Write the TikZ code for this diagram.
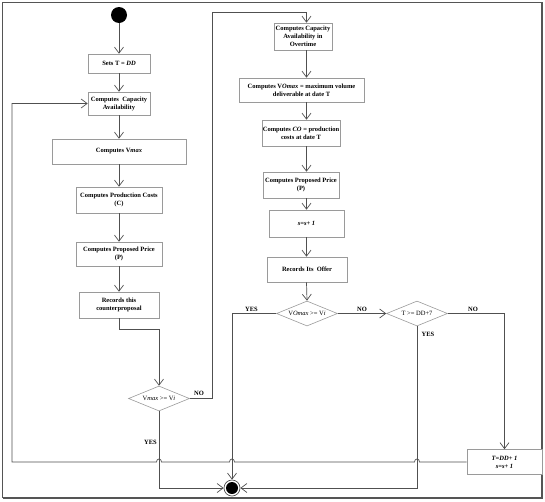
\documentclass[tikz,border=0pt]{standalone}
\usepackage{fontspec}
\setmainfont{Liberation Serif}
\usetikzlibrary{arrows.meta,shapes.geometric}
\definecolor{boxgray}{HTML}{9A9A9A}
\definecolor{linegray}{HTML}{505050}
\definecolor{framegray}{HTML}{555555}
\begin{document}
\begin{tikzpicture}[x=1pt,y=-1pt,
  txt/.style={font=\fontsize{6.5}{8}\selectfont},
  box/.style={txt, draw=boxgray, fill=white, rectangle, align=center, inner sep=1pt, line width=0.6pt, font=\fontsize{6.5}{8}\selectfont\bfseries},
  dia/.style={txt, draw=boxgray, diamond, aspect=2.5, inner sep=0pt, line width=0.6pt, minimum width=61pt, minimum height=25pt},
  lab/.style={font=\fontsize{6.5}{8}\selectfont\bfseries, inner sep=0pt},
  conn/.style={draw=linegray, line width=0.7pt},
  arr/.style={conn, -{Straight Barb[length=6pt,width=9pt]}}
]
\useasboundingbox (0,0) rectangle (545,501);
% frame
\draw[framegray, line width=1.1pt] (2.5,2.5) rectangle (542,497.5);
\draw[framegray, line width=2pt] (542,2.5) -- (542,497.5) -- (2.5,497.5);

% left column
\node[circle, fill=black, minimum size=16pt, inner sep=0pt] (start) at (119,15) {};
\node[box, minimum width=62pt, minimum height=19pt] (b1) at (119,63.5) {Sets T = \textit{DD}};
\node[box, minimum width=62pt, minimum height=23pt] (b2) at (119,103.5) {Computes\ \ Capacity\\Availability};
\node[box, minimum width=134pt, minimum height=25pt] (b3) at (119,151.5) {Computes V\textit{max}};
\node[box, minimum width=86pt, minimum height=26pt] (b4) at (119,200) {Computes Production Costs\\(C)};
\node[box, minimum width=86pt, minimum height=24pt] (b5) at (119,254) {Computes Proposed Price\\(P)};
\node[box, minimum width=80pt, minimum height=26pt] (b6) at (119,305) {Records this\\counterproposal};
\node[dia] (d1) at (159,398.5) {V\textit{max} >= V\textit{i}};

% final node
\node[circle, draw=linegray, line width=0.7pt, minimum size=16pt, inner sep=0pt] (fin) at (232,488) {};
\fill[black] (fin.center) circle (6pt);

% right column
\coordinate (colR) at (306.5,0);
\node[box, minimum width=58pt, minimum height=27pt] (r1) at (303,36.5) {Computes Capacity\\Availability in\\Overtime};
\node[box, minimum width=125pt, minimum height=24pt] (r2) at (301.5,90) {Computes V\textit{Omax} = maximum volume\\deliverable at date T};
\node[box, minimum width=76pt, minimum height=26pt] (r3) at (301,133) {Computes \textit{CO} = production\\costs at date T};
\node[box, minimum width=76pt, minimum height=26pt] (r4) at (301,185) {Computes Proposed Price\\(P)};
\node[box, minimum width=75pt, minimum height=27pt] (r5) at (306.5,223.5) {\textit{s=s+ 1}};
\node[box, minimum width=80pt, minimum height=25pt] (r6) at (307,269.5) {Records Its\ \ Offer};
\node[dia] (d2) at (307,313.5) {V\textit{Omax} >= V\textit{i}};
\node[dia] (d3) at (417,313.5) {T >= DD+7};
\node[box, minimum width=75pt, minimum height=25pt] (r7) at (504.5,462) {\textit{T=DD+ 1}\\\textit{s=s+ 1}};

% labels
\node[lab] (l1) at (199,393) {NO};
\node[lab] (l2) at (150.5,442) {YES};
\node[lab] (l3) at (251.5,309.5) {YES};
\node[lab] (l4) at (362,309.5) {NO};
\node[lab] (l5) at (473,309.5) {NO};
\node[lab] (l6) at (428,334.5) {YES};

% left connectors
\draw[arr] (start) -- (b1);
\draw[arr] (b1) -- (b2);
\draw[arr] (b2) -- (b3);
\draw[arr] (b3) -- (b4);
\draw[arr] (b4) -- (b5);
\draw[arr] (b5) -- (b6);
\draw[arr] (b6.south) -- (119,329) -- (159,329) -- (d1.north);
\draw[arr] (d1.east) -- (212,398.5) -- (212,12) -- (306.5,12) -- (r1.north -| colR);

% right connectors
\draw[arr] (r1.south -| colR) -- (r2.north -| colR);
\draw[arr] (r2.south -| colR) -- (r3.north -| colR);
\draw[arr] (r3.south -| colR) -- (r4.north -| colR);
\draw[arr] (r4.south -| colR) -- (r5.north -| colR);
\draw[arr] (r5.south -| colR) -- (r6.north -| colR);
\draw[arr] (r6.south -| colR) -- (d2.north);
\draw[arr] (d2.east) -- (d3.west);
\draw[arr] (d3.east) -- (504.5,313.5) -- (r7.north);

% to final
\draw[arr] (d1.south) -- (159,488) -- (fin.west);
\draw[arr] (d2.west) -- (232,313.5) -- (fin.north);
\draw[arr] (d3.south) -- (417,488) -- (fin.east);

% loop back with jumps
\draw[arr] (r7.west) -- (419.5,462) .. controls (419.5,458) and (414.5,458) .. (414.5,462)
  -- (234.5,462) .. controls (234.5,458) and (229.5,458) .. (229.5,462)
  -- (161.5,462) .. controls (161.5,458) and (156.5,458) .. (156.5,462)
  -- (12,462) -- (12,103.5) -- (b2.west);
\end{tikzpicture}
\end{document}
